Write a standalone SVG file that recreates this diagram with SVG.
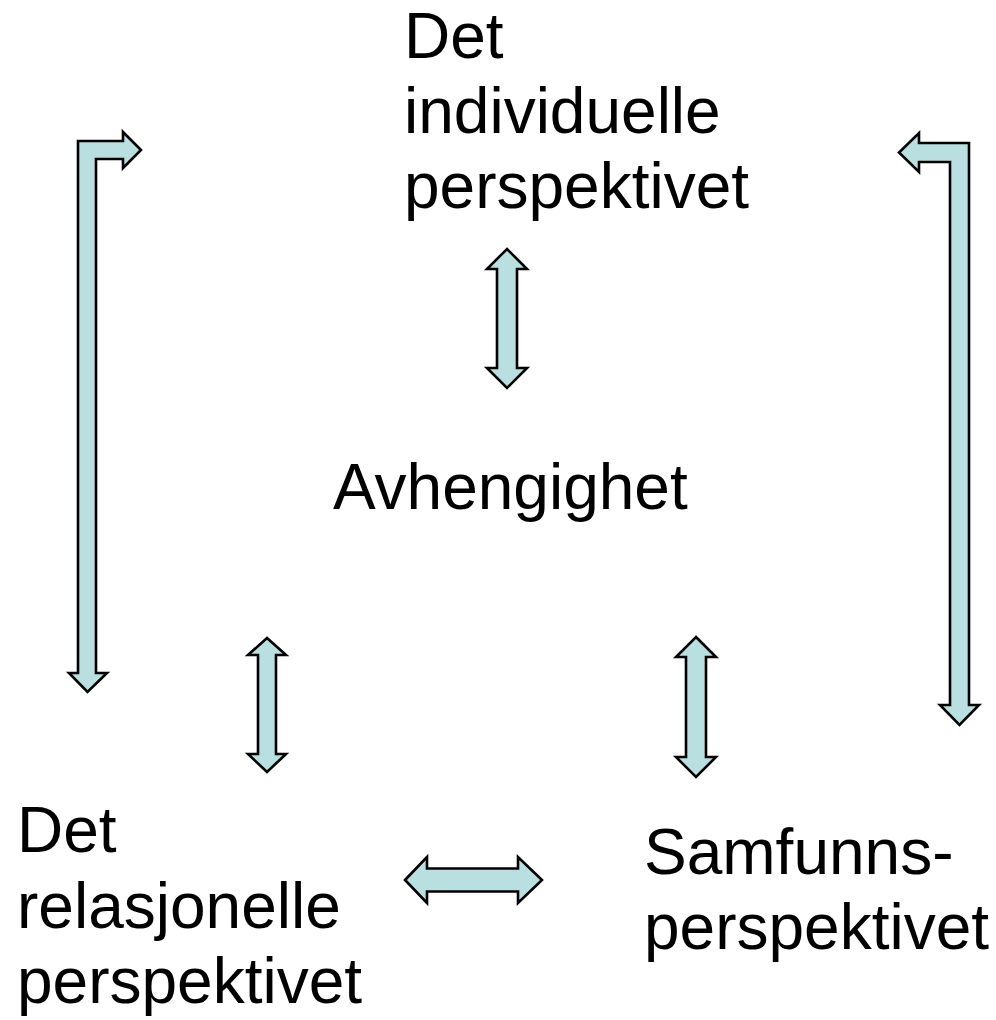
<svg xmlns="http://www.w3.org/2000/svg" width="996" height="1020" viewBox="0 0 996 1020">
<style>
.lbl{font-family:"Liberation Sans",Arial,sans-serif;font-size:64px;fill:#000}
.arr{fill:#B9DFE1;stroke:#000;stroke-width:2.6;stroke-linejoin:miter}
</style>
<rect width="996" height="1020" fill="#fff"/>
<g id="connectors">
<path class="arr" d="M78,141 H123 V132 L141,150 L123,168 V159 H96 V673 H107 L87.5,692 L69,673 H78 Z"/>
<path class="arr" d="M969,143 V705 H979 L959.5,725 L940,705 H950 V162 H919 V172 L899,152.5 L919,133 V143 Z"/>
<path class="arr" d="M507,249 L527,269 H517 V368 H527 L507,388 L487,368 H497 V269 H487 Z"/>
<path class="arr" d="M267,638 L286,655 H276 V754 H286 L267,772 L248,754 H258 V655 H248 Z"/>
<path class="arr" d="M696,637 L716,657 H706 V757 H716 L696,777 L676,757 H686 V657 H676 Z"/>
<path class="arr" d="M405,880 L427,857 V868.5 H518 V857 L542,880 L518,903 V891.5 H427 V903 Z"/>
</g>
<g id="node-individuelle">
<text class="lbl" x="404" y="58">Det</text>
<text class="lbl" x="404" y="133">individuelle</text>
<text class="lbl" x="404" y="208">perspektivet</text>
</g>
<g id="node-avhengighet">
<text class="lbl" x="333" y="509">Avhengighet</text>
</g>
<g id="node-relasjonelle">
<text class="lbl" x="17" y="852">Det</text>
<text class="lbl" x="17" y="928">relasjonelle</text>
<text class="lbl" x="17" y="1003">perspektivet</text>
</g>
<g id="node-samfunn">
<text class="lbl" x="644" y="874">Samfunns-</text>
<text class="lbl" x="644" y="949">perspektivet</text>
</g>
</svg>
